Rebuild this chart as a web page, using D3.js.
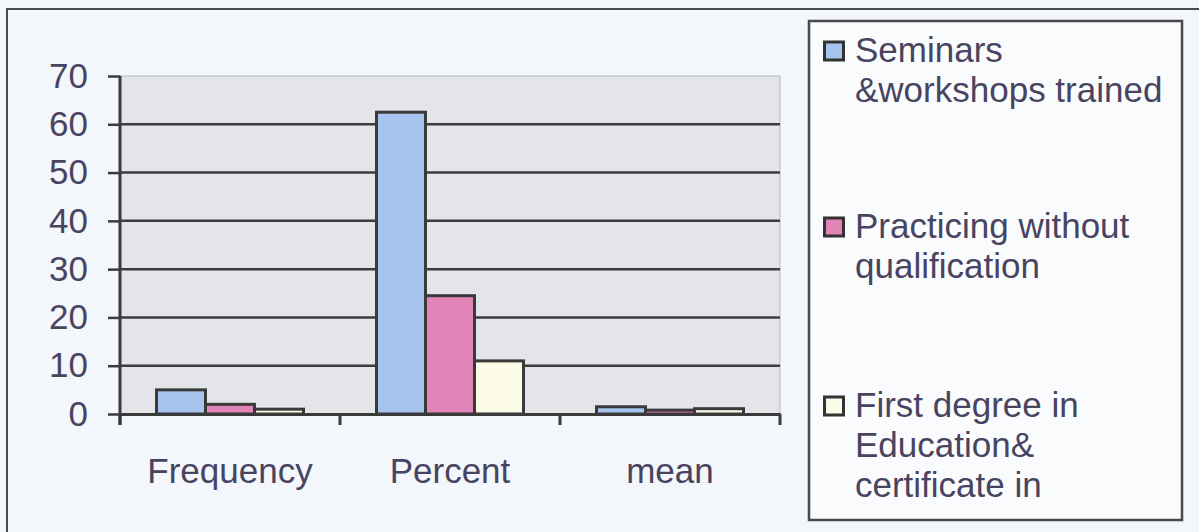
<!DOCTYPE html>
<html>
<head>
  <meta charset="utf-8">
  <title>Qualification of teachers</title>
  <script src="https://d3js.org/d3.v7.min.js"></script>
  <style>
    body { margin: 0; background: #f3f6fa; }
    svg { display: block; }
    .lbl { font-family: "Liberation Sans", Arial, sans-serif; font-size: 35px; fill: #484460; }
  </style>
</head>
<body>
<div id="chart"></div>
<script>
  // categories on the x axis
  const categories = ["Frequency", "Percent", "mean"];
  // series names (legend lines) and their values per category
  const seriesNames = ["Seminars &workshops trained", "Practicing without qualification", "First degree in Education& certificate in"];
  const legendLines = [
    ["Seminars", "&workshops trained"],
    ["Practicing without", "qualification"],
    ["First degree in", "Education&", "certificate in"]
  ];
  const seminars = [5, 62.5, 1.5];
  const practicing = [2, 24.5, 0.8];
  const firstDegree = [1, 11, 1.1];
  const yTicks = [0, 10, 20, 30, 40, 50, 60, 70];
  const colors = ["#a6c4ee", "#e184b8", "#fbfbe8"];

  const seriesValues = [seminars, practicing, firstDegree];

  const W = 1199, H = 532;
  const plot = {left: 120, right: 780, top: 76, bottom: 414};

  const svg = d3.select("#chart").append("svg")
    .attr("width", W)
    .attr("height", H);

  // outer chart border
  svg.append("rect")
    .attr("x", 7).attr("y", 9)
    .attr("width", 1220).attr("height", 540)
    .attr("fill", "none")
    .attr("stroke", "#4a4a4a")
    .attr("stroke-width", 2);

  const x0 = d3.scaleBand()
    .domain(categories)
    .range([plot.left, plot.right]);

  const x1 = d3.scaleBand()
    .domain(seriesNames)
    .range([0, x0.bandwidth()])
    .paddingOuter(0.745);

  const y = d3.scaleLinear()
    .domain([0, 70])
    .range([plot.bottom, plot.top]);

  // plot area background
  svg.append("rect")
    .attr("x", plot.left).attr("y", plot.top)
    .attr("width", plot.right - plot.left)
    .attr("height", plot.bottom - plot.top)
    .attr("fill", "#e3e5e9")
    .attr("stroke", "#b4b6ba")
    .attr("stroke-width", 1);

  // horizontal grid lines
  svg.append("g")
    .selectAll("line")
    .data(yTicks.filter(d => d > 0 && d < 70))
    .join("line")
    .attr("x1", plot.left).attr("x2", plot.right)
    .attr("y1", d => y(d)).attr("y2", d => y(d))
    .attr("stroke", "#3c3c3c")
    .attr("stroke-width", 2.5);

  // bars
  const rows = categories.map((c, i) => ({cat: c, vals: seriesNames.map((s, j) => ({s: s, j: j, v: seriesValues[j][i]}))}));

  svg.append("g")
    .selectAll("g")
    .data(rows)
    .join("g")
    .attr("transform", d => `translate(${x0(d.cat)},0)`)
    .selectAll("rect")
    .data(d => d.vals)
    .join("rect")
    .attr("x", d => x1(d.s))
    .attr("y", d => y(d.v))
    .attr("width", x1.bandwidth())
    .attr("height", d => y(0) - y(d.v))
    .attr("fill", d => colors[d.j])
    .attr("stroke", "#3a3a3a")
    .attr("stroke-width", 3);

  // y axis
  const yAxis = svg.append("g")
    .attr("transform", `translate(${plot.left},0)`)
    .call(d3.axisLeft(y).tickValues(yTicks).tickSize(12).tickPadding(20));
  yAxis.select(".domain").attr("stroke", "#3a3a3a").attr("stroke-width", 3)
    .attr("d", `M0,${plot.top}V${plot.bottom + 11}`);
  yAxis.selectAll(".tick line").attr("stroke", "#3a3a3a").attr("stroke-width", 2.5);
  yAxis.selectAll(".tick text").attr("class", "lbl").attr("font-size", null).attr("font-family", null).attr("fill", null);

  // x axis
  const xAxis = svg.append("g")
    .attr("transform", `translate(0,${plot.bottom})`)
    .call(d3.axisBottom(x0).tickSize(0).tickPadding(44));
  xAxis.select(".domain").attr("stroke", "#3a3a3a").attr("stroke-width", 3);
  xAxis.selectAll(".tick text").attr("class", "lbl").attr("font-size", null).attr("font-family", null).attr("fill", null);

  // category separator ticks
  const sepTicks = [plot.left].concat(categories.map(c => x0(c) + x0.bandwidth()));
  xAxis.append("g")
    .selectAll("line")
    .data(sepTicks)
    .join("line")
    .attr("x1", d => d).attr("x2", d => d)
    .attr("y1", 0).attr("y2", 11)
    .attr("stroke", "#3a3a3a")
    .attr("stroke-width", 3);

  // legend
  const legend = svg.append("g");
  legend.append("rect")
    .attr("x", 809).attr("y", 21)
    .attr("width", 373).attr("height", 499)
    .attr("fill", "#f9fbfd")
    .attr("stroke", "#4a4a4a")
    .attr("stroke-width", 2.5);

  const itemTop = [62, 238, 417];
  const items = legend.selectAll(".item")
    .data(legendLines)
    .join("g")
    .attr("class", "item")
    .attr("transform", (d, i) => `translate(823,${itemTop[i]})`);

  items.append("rect")
    .attr("x", 1.5).attr("y", -20)
    .attr("width", 19).attr("height", 18)
    .attr("fill", (d, i) => colors[i])
    .attr("stroke", "#333")
    .attr("stroke-width", 3);

  items.append("text")
    .attr("class", "lbl")
    .attr("x", 32)
    .selectAll("tspan")
    .data(d => d)
    .join("tspan")
    .attr("x", 32)
    .attr("y", (d, i) => i * 40)
    .text(d => d);
</script>
</body>
</html>
